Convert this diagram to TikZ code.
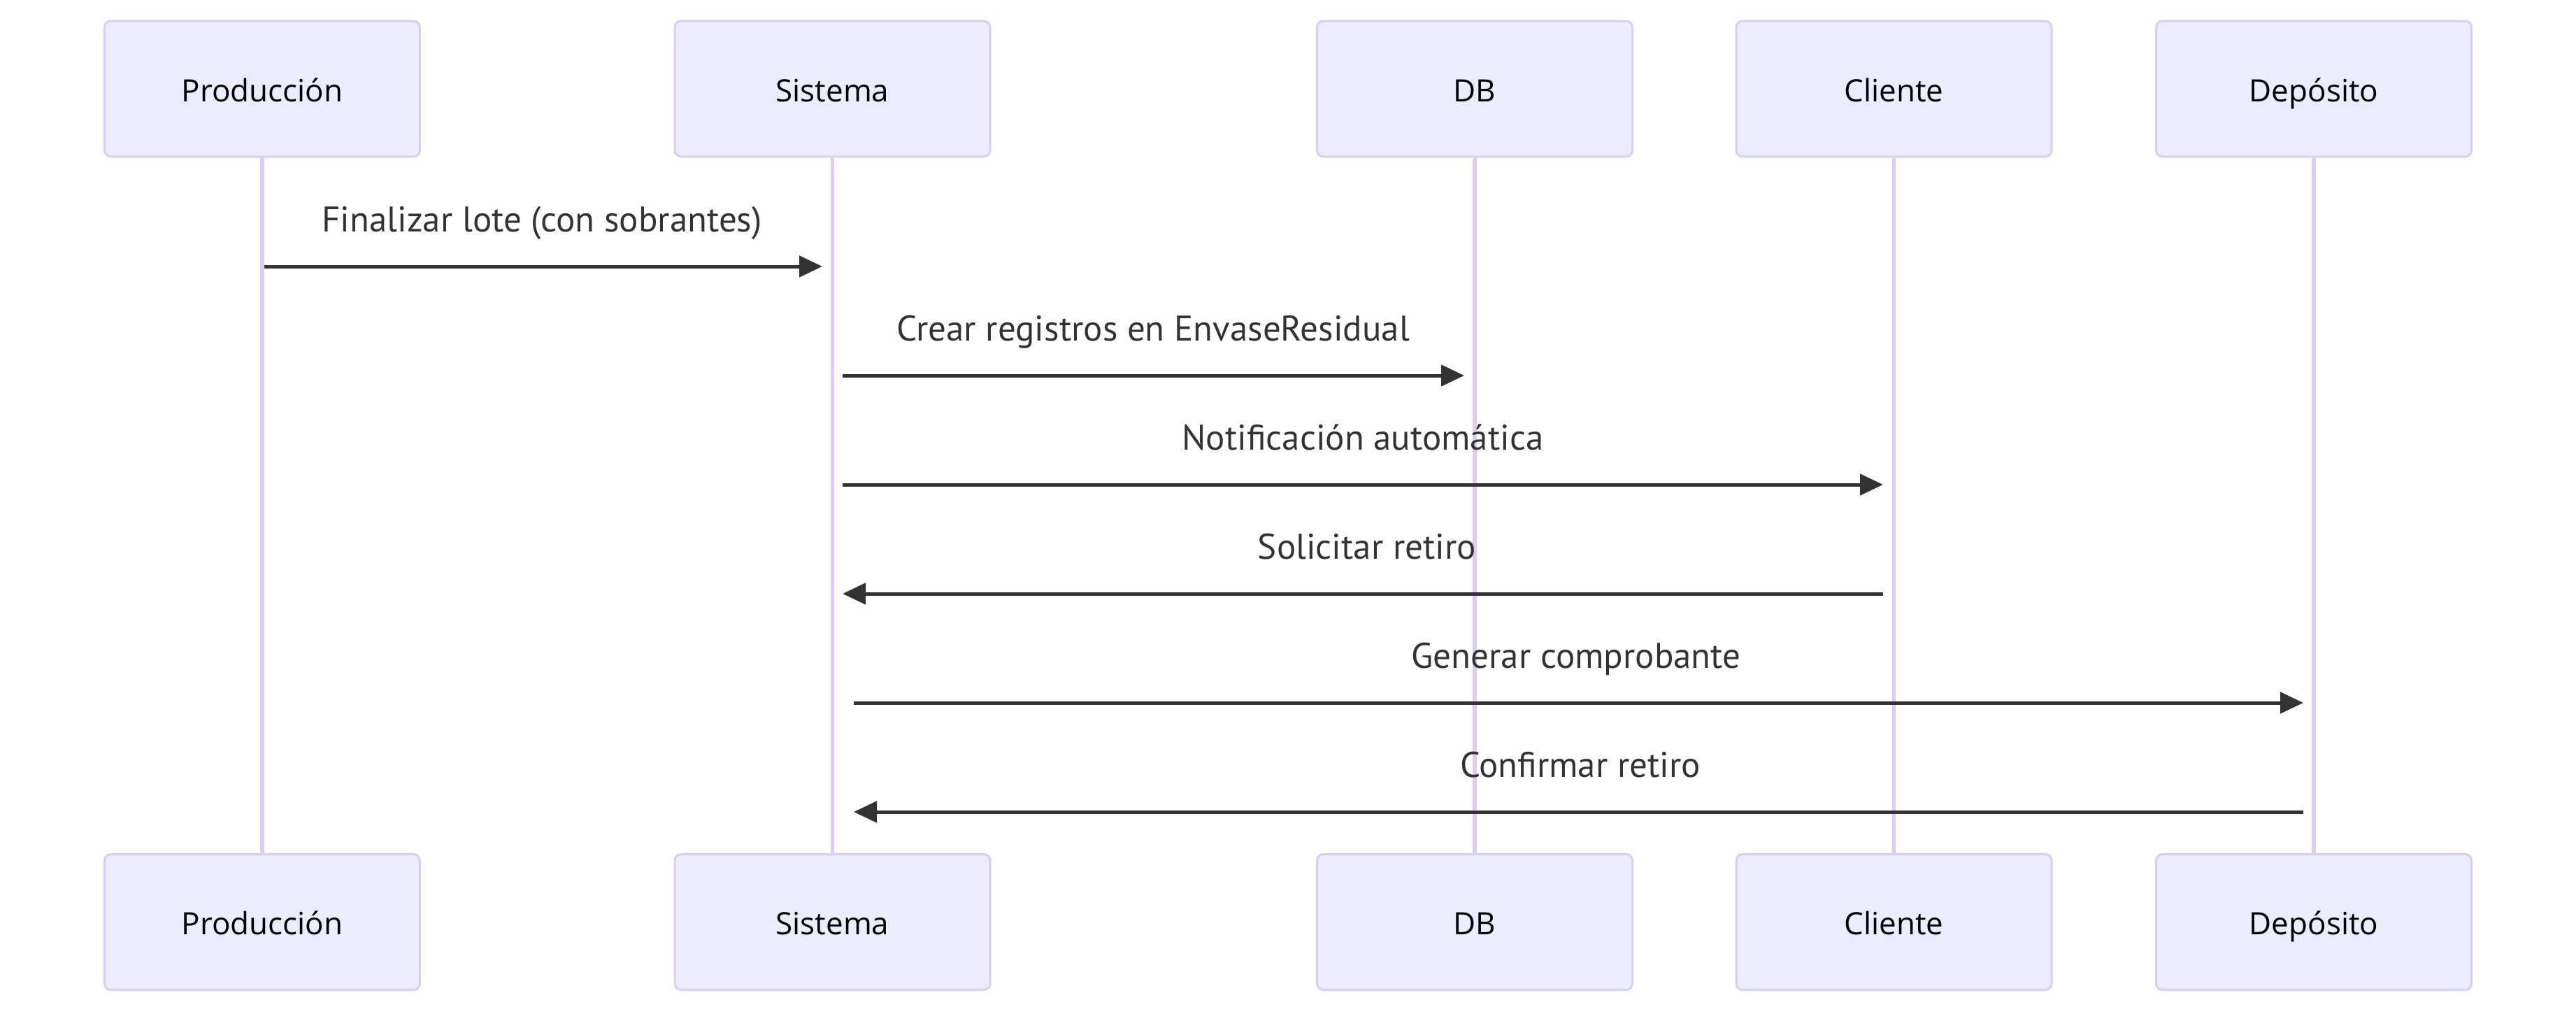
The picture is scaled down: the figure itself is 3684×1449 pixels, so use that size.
\documentclass[tikz,border=0pt]{standalone}
\usepackage{fontspec}
\setmainfont{PT Sans}
\newfontfamily\actorfont{Open Sans}
\usetikzlibrary{arrows.meta}
\definecolor{lifec}{HTML}{DACEF3}
\definecolor{boxfill}{HTML}{ECECFF}
\definecolor{msgc}{HTML}{333333}
\begin{document}
\begin{tikzpicture}[x=0.25pt,y=-0.25pt,
  actorbox/.style={draw=lifec, fill=boxfill, line width=0.75pt, rounded corners=2.25pt,
    minimum width=112.75pt, minimum height=48.5pt, inner sep=0pt,
    text height=11pt, text depth=2pt,
    font=\actorfont\fontsize{11}{13}\selectfont, text=black},
  lifeline/.style={draw=lifec, line width=1.3pt},
  msg/.style={draw=msgc, line width=1.25pt, -{Triangle[length=8.25pt,width=7.5pt]}},
  msglabel/.style={font=\fontsize{12.75}{15}\selectfont, text=msgc, inner sep=0pt, anchor=base}
]
\useasboundingbox (0,0) rectangle (3684,1449);
% participants (top)
\node[actorbox] (pT) at (375,127) {Producción};
\node[actorbox] (sT) at (1190.5,127) {Sistema};
\node[actorbox] (dT) at (2109,127) {DB};
\node[actorbox] (cT) at (2708.5,127) {Cliente};
\node[actorbox] (eT) at (3309,127) {Depósito};
% participants (bottom)
\node[actorbox] (pB) at (375,1318.5) {Producción};
\node[actorbox] (sB) at (1190.5,1318.5) {Sistema};
\node[actorbox] (dB) at (2109,1318.5) {DB};
\node[actorbox] (cB) at (2708.5,1318.5) {Cliente};
\node[actorbox] (eB) at (3309,1318.5) {Depósito};
% lifelines
\draw[lifeline] (pT.south) -- (pB.north);
\draw[lifeline] (sT.south) -- (sB.north);
\draw[lifeline] (dT.south) -- (dB.north);
\draw[lifeline] (cT.south) -- (cB.north);
\draw[lifeline] (eT.south) -- (eB.north);
% message endpoints
\coordinate (m1a) at (378,381);  \coordinate (m1b) at (1176,381);
\coordinate (m2a) at (1205,537); \coordinate (m2b) at (2094,537);
\coordinate (m3a) at (1205,693); \coordinate (m3b) at (2693,693);
\coordinate (m4a) at (2693,849); \coordinate (m4b) at (1205,849);
\coordinate (m5a) at (1221,1005); \coordinate (m5b) at (3294,1005);
\coordinate (m6a) at (3294,1161); \coordinate (m6b) at (1221,1161);
% messages
\draw[msg] (m1a) -- (m1b);
\draw[msg] (m2a) -- (m2b);
\draw[msg] (m3a) -- (m3b);
\draw[msg] (m4a) -- (m4b);
\draw[msg] (m5a) -- (m5b);
\draw[msg] (m6a) -- (m6b);
% labels
\node[msglabel] (l1) at (775,331) {Finalizar lote (con sobrantes)};
\node[msglabel] (l2) at (1649,487) {Crear registros en EnvaseResidual};
\node[msglabel] (l3) at (1949,643) {Notificación automática};
\node[msglabel] (l4) at (1955,799) {Solicitar retiro};
\node[msglabel] (l5) at (2254,955) {Generar comprobante};
\node[msglabel] (l6) at (2260,1111) {Confirmar retiro};
\end{tikzpicture}
\end{document}
